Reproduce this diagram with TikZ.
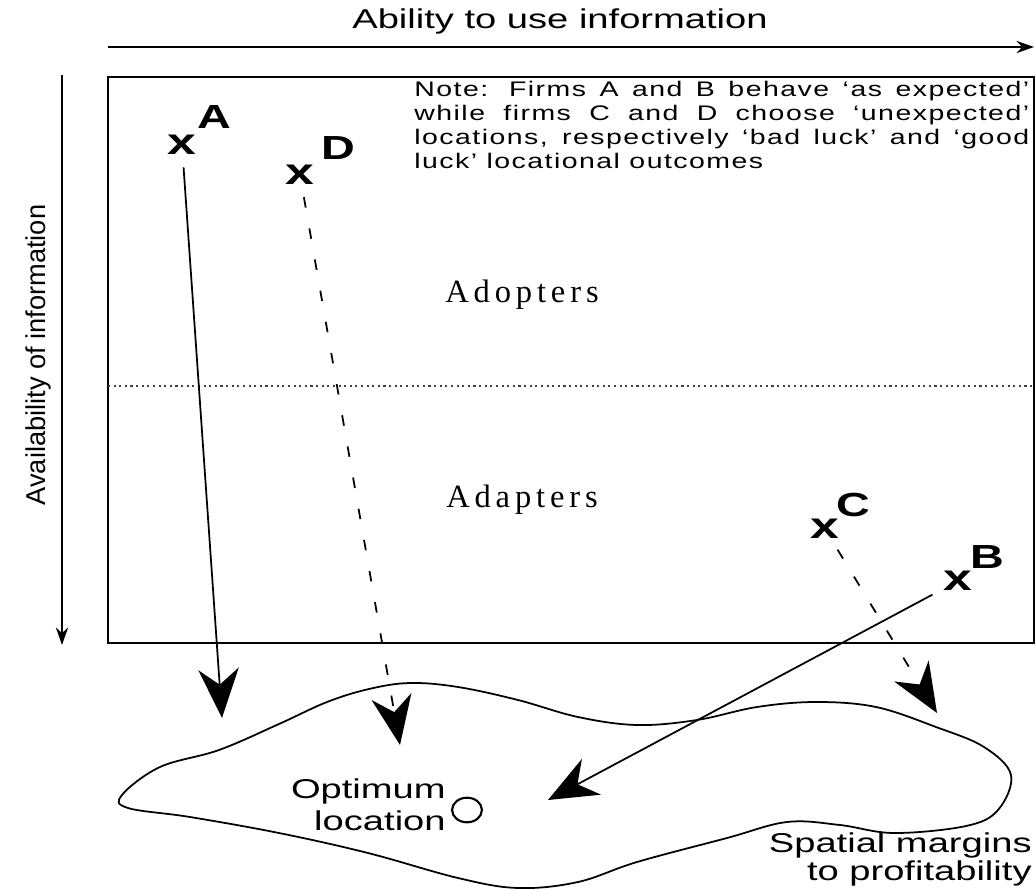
\documentclass[tikz,border=0pt]{standalone}
\usepackage{fontspec}
\setmainfont{Liberation Sans}
\newfontfamily\widefont[FakeStretch=1.4,Ligatures=TeX]{Liberation Sans}
\newfontfamily\notefont[FakeStretch=1.35,LetterSpace=7,Ligatures=TeX]{Liberation Sans}
\newfontfamily\groupfont[LetterSpace=15]{Liberation Serif}
\usetikzlibrary{arrows.meta,shapes.geometric}
\tikzset{
  firm/.style={font=\widefont\bfseries\fontsize{21}{21}\selectfont, inner sep=0pt},
  firmname/.style={font=\widefont\bfseries\fontsize{19}{19}\selectfont, inner sep=0pt},
  axislabel/.style={font=\widefont\fontsize{15.5}{16}\selectfont, inner sep=0pt},
  group/.style={font=\groupfont\fontsize{18.5}{18}\selectfont, inner sep=0pt},
  notetext/.style={font=\notefont\fontsize{12}{13.6}\selectfont, inner sep=0pt,
    text width=350pt, align=justify},
  axis/.style={line width=0.9pt, -{Stealth[length=10pt,width=7pt]}},
  bigtip/.style={-{Stealth[length=28pt,width=23pt,inset=9pt]}},
  route/.style={line width=1pt, shorten <=7pt, bigtip},
  luck/.style={route, dash pattern=on 6pt off 12pt},
}
\tikzset{>=latex}

\begin{document}
\begin{tikzpicture}[x=0.02cm,y=-0.02cm]
\useasboundingbox (0,0) rectangle (1036,890);

% axes
\coordinate (xfrom) at (108,47);
\coordinate (xto) at (1034,47);
\coordinate (yfrom) at (62,75);
\coordinate (yto) at (62,645);
\draw[axis] (xfrom) -- (xto);
\draw[axis] (yfrom) -- (yto);
\node[axislabel] at (560,21) (xlabel) {Ability to use information};
\node[axislabel, font=\fontsize{15.5}{16}\selectfont, rotate=90] at (38,355) (ylabel) {Availability of information};

% frame
\draw[line width=1.3pt] (108,77) rectangle (1034,643);
\draw[dotted, line width=1.2pt, black!75] (108,386) -- (1036,386);

\node[notetext, anchor=north west] at (414,81) (note)
  {Note: Firms A and B behave `as expected'\linebreak
   while firms C and D choose `unexpected'\linebreak
   locations, respectively `bad luck' and `good\linebreak
   luck' locational outcomes};

\node[group] at (522,295) (adopters) {Adopters};
\node[group] at (522,500) (adapters) {Adapters};

% firms
\node[firm] at (182,145) (ptA) {x};
\node[firmname] at (214,117) (nameA) {A};
\node[firm] at (300,175) (ptD) {x};
\node[firmname] at (338,148) (nameD) {D};
\node[firm] at (825,529) (ptC) {x};
\node[firmname] at (853,505) (nameC) {C};
\node[firm] at (958,581) (ptB) {x};
\node[firmname] at (987,557) (nameB) {B};

% spatial margins
\draw[line width=1pt] plot[smooth cycle, tension=0.6] coordinates {
  (122,795) (160,767) (219,750) (279,724) (327,702) (369,689) (410,683)
  (458,687) (518,700) (578,717) (637,725) (697,720) (757,707) (816,702)
  (876,707) (936,727) (984,747) (1011,775) (998,810) (966,826) (894,833)
  (840,825) (787,822) (727,838) (637,862) (578,882) (518,888) (458,878)
  (368,853) (279,833) (190,817) (128,808)};

\node[draw, ellipse, line width=1.2pt, minimum width=17pt, minimum height=14pt, inner sep=0pt] at (467,810) (optimum) {};
\node[axislabel, align=right, anchor=east, font=\widefont\fontsize{15.5}{18.5}\selectfont] at (446,805) (optname) {Optimum\\location};
\node[axislabel, align=right, anchor=south east, font=\widefont\fontsize{15.5}{14}\selectfont] at (1032,886) (margins) {Spatial margins\\to profitability};

% moves
\coordinate (tipA) at (222,718);
\coordinate (tipD) at (400,745);
\coordinate (tipC) at (937,713);
\coordinate (tipB) at (548,800);
\draw[route] (ptA) -- (tipA);
\draw[luck] (ptD) -- (tipD);
\draw[luck] (ptC) -- (tipC);
\draw[route] (ptB) -- (tipB);
\end{tikzpicture}
\end{document}
